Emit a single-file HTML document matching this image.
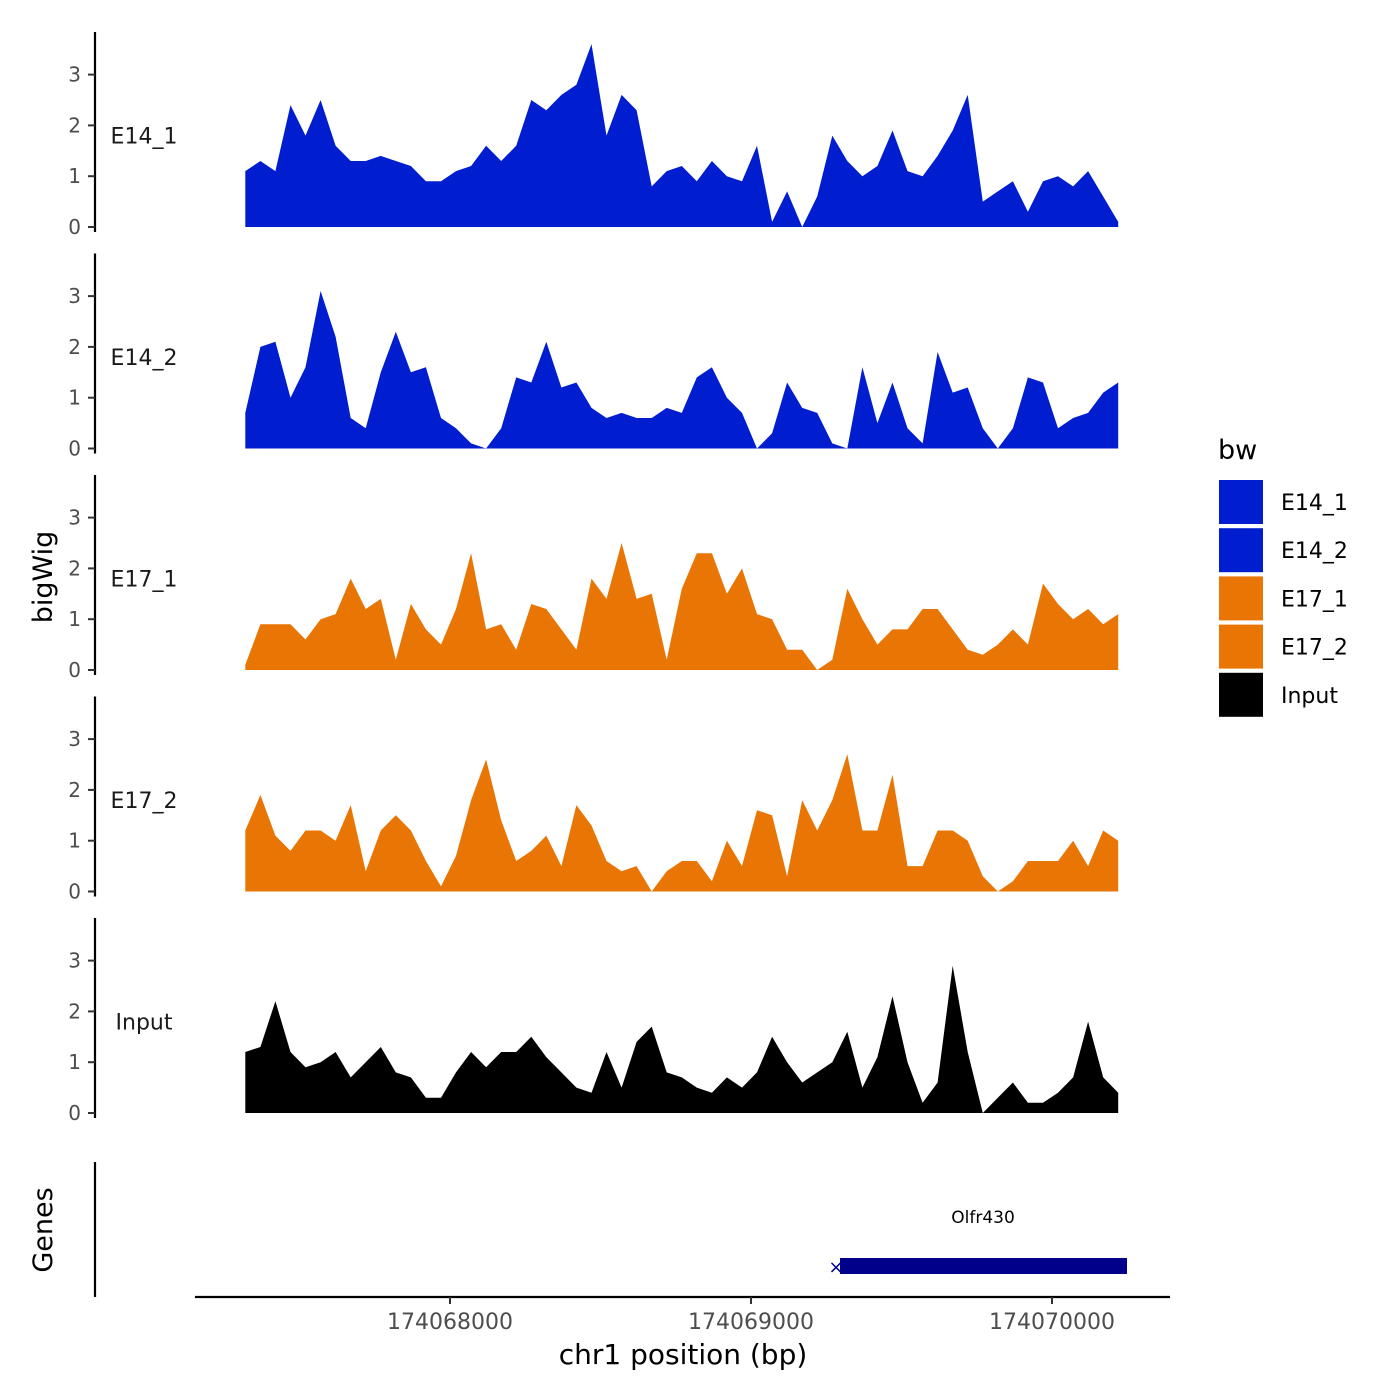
<!DOCTYPE html>
<html><head><meta charset="utf-8"><style>
body{margin:0;background:#fff}
svg{display:block;font-family:"DejaVu Sans","Liberation Sans",sans-serif}
</style></head><body>
<svg id="chart" width="1400" height="1400" viewBox="0 0 1400 1400">
<rect width="1400" height="1400" fill="#fff"/>
<g id="tracks"></g>
<text transform="translate(52,577) rotate(-90)" text-anchor="middle" font-size="27" fill="#000">bigWig</text>
<text transform="translate(52,1230) rotate(-90)" text-anchor="middle" font-size="27" fill="#000">Genes</text>
<line x1="95" y1="1162" x2="95" y2="1297" stroke="#000" stroke-width="2.2"/>
<line x1="195" y1="1297" x2="1170" y2="1297" stroke="#000" stroke-width="2.2"/>
<g id="xaxis"></g>
<text x="683" y="1364" text-anchor="middle" font-size="28" fill="#000">chr1 position (bp)</text>
<g>
<rect x="840" y="1258" width="287" height="16" fill="#00008B"/>
<text x="836" y="1273" font-size="18" fill="#00008B" text-anchor="middle">×</text>
<text x="983" y="1223" font-size="17" text-anchor="middle" fill="#000">Olfr430</text>
</g>
<g id="legend">
<text x="1218" y="459" font-size="27" fill="#000">bw</text>
</g>
</svg>
<script>
var tracks = ["E14_1","E14_2","E17_1","E17_2","Input"];
var colors = ["#001ECF","#001ECF","#E87504","#E87504","#000000"];
var startBp = 174067320;
var stepBp = 50;
var e14_1 = [1.1,1.3,1.1,2.4,1.8,2.5,1.6,1.3,1.3,1.4,1.3,1.2,0.9,0.9,1.1,1.2,1.6,1.3,1.6,2.5,2.3,2.6,2.8,3.6,1.8,2.6,2.3,0.8,1.1,1.2,0.9,1.3,1.0,0.9,1.6,0.1,0.7,0,0.6,1.8,1.3,1.0,1.2,1.9,1.1,1.0,1.4,1.9,2.6,0.5,0.7,0.9,0.3,0.9,1.0,0.8,1.1,0.6,0.1];
var e14_2 = [0.7,2.0,2.1,1.0,1.6,3.1,2.2,0.6,0.4,1.5,2.3,1.5,1.6,0.6,0.4,0.1,0,0.4,1.4,1.3,2.1,1.2,1.3,0.8,0.6,0.7,0.6,0.6,0.8,0.7,1.4,1.6,1.0,0.7,0,0.3,1.3,0.8,0.7,0.1,0,1.6,0.5,1.3,0.4,0.1,1.9,1.1,1.2,0.4,0,0.4,1.4,1.3,0.4,0.6,0.7,1.1,1.3];
var e17_1 = [0.1,0.9,0.9,0.9,0.6,1.0,1.1,1.8,1.2,1.4,0.2,1.3,0.8,0.5,1.2,2.3,0.8,0.9,0.4,1.3,1.2,0.8,0.4,1.8,1.4,2.5,1.4,1.5,0.2,1.6,2.3,2.3,1.5,2.0,1.1,1.0,0.4,0.4,0.0,0.2,1.6,1.0,0.5,0.8,0.8,1.2,1.2,0.8,0.4,0.3,0.5,0.8,0.5,1.7,1.3,1.0,1.2,0.9,1.1];
var e17_2 = [1.2,1.9,1.1,0.8,1.2,1.2,1.0,1.7,0.4,1.2,1.5,1.2,0.6,0.1,0.7,1.8,2.6,1.4,0.6,0.8,1.1,0.5,1.7,1.3,0.6,0.4,0.5,0.0,0.4,0.6,0.6,0.2,1.0,0.5,1.6,1.5,0.3,1.8,1.2,1.8,2.7,1.2,1.2,2.3,0.5,0.5,1.2,1.2,1.0,0.3,0.0,0.2,0.6,0.6,0.6,1.0,0.5,1.2,1.0];
var input = [1.2,1.3,2.2,1.2,0.9,1.0,1.2,0.7,1.0,1.3,0.8,0.7,0.3,0.3,0.8,1.2,0.9,1.2,1.2,1.5,1.1,0.8,0.5,0.4,1.2,0.5,1.4,1.7,0.8,0.7,0.5,0.4,0.7,0.5,0.8,1.5,1.0,0.6,0.8,1.0,1.6,0.5,1.1,2.3,1.0,0.2,0.6,2.9,1.2,0.0,0.3,0.6,0.2,0.2,0.4,0.7,1.8,0.7,0.4];
var yTicks = [0,1,2,3];
var xTicks = [174068000,174069000,174070000];
var seriesData = [e14_1,e14_2,e17_1,e17_2,input];

var NS="http://www.w3.org/2000/svg";
function xScale(bp){return 450+(bp-174068000)*0.301;}
function yScale(v,p){return 227+p*221.5-v*50.8;}
function mk(tag,attrs,parent){var e=document.createElementNS(NS,tag);for(var k in attrs)e.setAttribute(k,attrs[k]);parent.appendChild(e);return e;}

var tg=document.getElementById('tracks');
seriesData.forEach(function(vals,p){
  var g=mk('g',{},tg);
  
  
  var base=yScale(0,p);
  var ax=mk('line',{x1:95,y1:base-195,x2:95,y2:base+5,stroke:'#000','stroke-width':2.2},g);
  
  
  yTicks.forEach(function(t){
    var y=yScale(t,p);
    var tk=mk('line',{x1:88,y1:y,x2:95,y2:y,stroke:'#333','stroke-width':2},g);
    
    
    var tl=mk('text',{x:81,y:y+7,'text-anchor':'end','font-size':20,fill:'#4d4d4d'},g);
    tl.textContent=t;
    
    
  });
  var lab=mk('text',{x:144,y:yScale(1.8,p)+8,'text-anchor':'middle','font-size':22,fill:'#1a1a1a'},g);
  lab.textContent=tracks[p];
  
  
  var seg=[];
  function flush(){
    if(seg.length>1){
      var d='M'+seg[0][0]+','+base;
      seg.forEach(function(pt){d+=' L'+pt[0]+','+pt[1];});
      d+=' L'+seg[seg.length-1][0]+','+base+' Z';
      var a=mk('path',{d:d,fill:colors[p]},g);
      
      
    }
    seg=[];
  }
  vals.forEach(function(v,i){
    if(v===null){flush();return;}
    seg.push([xScale(startBp+i*stepBp).toFixed(1),yScale(v,p).toFixed(1)]);
  });
  flush();
});

var xg=document.getElementById('xaxis');
xTicks.forEach(function(t){
  var x=xScale(t);
  var tk=mk('line',{x1:x,y1:1297,x2:x,y2:1304,stroke:'#333','stroke-width':2},xg);
  
  
  var tl=mk('text',{x:x,y:1329,'text-anchor':'middle','font-size':22,fill:'#4d4d4d'},xg);
  tl.textContent=t;
  
  
});

var lg=document.getElementById('legend');
tracks.forEach(function(n,i){
  var y=480+i*48.2;
  var r=mk('rect',{x:1219,y:y,width:44,height:44,fill:colors[i]},lg);
  
  
  var t=mk('text',{x:1281,y:y+30,'font-size':22,fill:'#000'},lg);
  t.textContent=n;
  
  
});
</script>
</body></html>
